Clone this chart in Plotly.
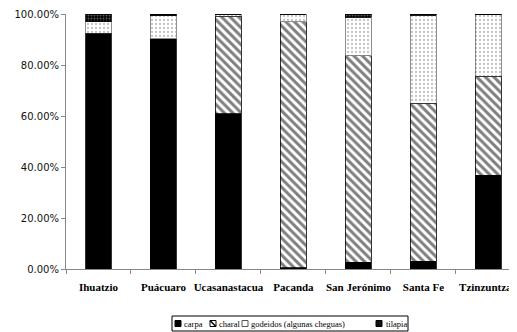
import plotly.graph_objects as go

sites = ["Ihuatzio", "Puácuaro", "Ucasanastacua", "Pacanda", "San Jerónimo", "Santa Fe", "Tzinzuntzan"]
carpa = [0.925, 0.902, 0.609, 0.005, 0.027, 0.030, 0.367]
charal = [0.0, 0.0, 0.383, 0.965, 0.810, 0.620, 0.388]
godeidos = [0.045, 0.091, 0.008, 0.030, 0.150, 0.346, 0.242]
tilapia = [0.030, 0.007, 0.0, 0.0, 0.013, 0.004, 0.003]
legend_names = ["carpa", "charal", "godeidos (algunas cheguas)", "tilapia"]

series = [
    (carpa, dict(color="black", line=dict(color="black", width=0.8))),
    (charal, dict(color="white", line=dict(color="black", width=0.8),
                  pattern=dict(shape="\\", fgcolor="black", bgcolor="white", size=6, solidity=0.5))),
    (godeidos, dict(color="white", line=dict(color="#444", width=0.6),
                    pattern=dict(shape=".", fgcolor="#888", bgcolor="white", size=4, solidity=0.25))),
    (tilapia, dict(color="black", line=dict(color="black", width=0.8),
                   pattern=dict(shape=".", fgcolor="#bbb", bgcolor="black", size=3, solidity=0.3))),
]

# the page body has an 8px margin, so the figure sits at (8, 8) in the window
OFF = 8
W, H = 517 - OFF, 332 - OFF
L, T = 66 - OFF, 14 - OFF
B = H - (269 - OFF)
PW, PH = W - L, H - T - B


def px(x, y):
    # window pixel position -> paper coords
    return (x - OFF - L) / PW, 1 - (y - OFF - T) / PH


fig = go.Figure()
for name, (vals, marker) in zip(legend_names, series):
    fig.add_trace(go.Bar(x=sites, y=vals, name=name, marker=marker, width=0.4, showlegend=False))

# hand-made legend, the built-in one is too wide
shapes = []
annotations = []
bx0, by0 = px(172, 316)
bx1, by1 = px(408, 331)
shapes.append(dict(type="rect", xref="paper", yref="paper", x0=bx0, y0=by1, x1=bx1, y1=by0,
                   line=dict(color="black", width=1), fillcolor="white"))
sym_x = [175, 210, 242, 376]
txt_x = [183, 218, 250, 385]
sym_fill = ["black", "white", "white", "#111"]
sym_line = ["black", "black", "#555", "black"]
for i, name in enumerate(legend_names):
    x0, y0 = px(sym_x[i], 320.5)
    x1, y1 = px(sym_x[i] + 6, 326.5)
    shapes.append(dict(type="rect", xref="paper", yref="paper", x0=x0, y0=y1, x1=x1, y1=y0,
                       line=dict(color=sym_line[i], width=1), fillcolor=sym_fill[i]))
    if name == "charal":
        shapes.append(dict(type="line", xref="paper", yref="paper", x0=x0, y0=y0, x1=x1, y1=y1,
                           line=dict(color="black", width=1.5)))
    tx, ty = px(txt_x[i], 323.5)
    annotations.append(dict(text=name, xref="paper", yref="paper", x=tx, y=ty, xanchor="left",
                            yanchor="middle", showarrow=False, borderpad=0,
                            font=dict(family="Liberation Serif", size=8.5, color="black")))

fig.update_layout(
    barmode="stack",
    width=W, height=H,
    margin=dict(l=L, r=0, t=T, b=B),
    plot_bgcolor="white", paper_bgcolor="white",
    shapes=shapes, annotations=annotations,
)
fig.update_xaxes(
    range=[-0.5, 6.44], showline=True, linecolor="#888", linewidth=1,
    ticks="outside", tickson="boundaries", ticklen=4, tickcolor="#888", tickangle=0,
    ticklabelstandoff=8,
    tickfont=dict(family="Liberation Serif", size=11, color="black", weight="bold"),
    showgrid=False,
)
fig.update_yaxes(
    range=[0, 1], tickvals=[0, 0.2, 0.4, 0.6, 0.8, 1.0], tickformat=".2%",
    showline=True, linecolor="#888", linewidth=1, ticks="outside", ticklen=4, tickcolor="#888",
    tickfont=dict(family="DejaVu Sans", size=10, color="#111"),
    showgrid=False, zeroline=False,
)

fig.write_html("out.html")
